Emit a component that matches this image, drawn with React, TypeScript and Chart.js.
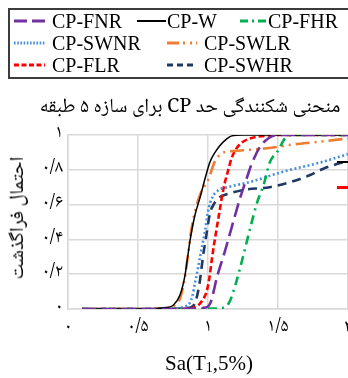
import React, { useEffect, useRef } from "react";
import { Chart, registerables } from "chart.js";

Chart.register(...registerables);

// Series names (legend order)
const seriesNames = ["CP-FNR", "CP-W", "CP-FHR", "CP-SWNR", "CP-SWLR", "CP-FLR", "CP-SWHR"];

// Fragility curves: spectral acceleration Sa(T1,5%) and probability of exceedance
const fnrX = [0.1, 0.8, 0.9, 0.96, 1.0, 1.02, 1.04, 1.06, 1.12, 1.18, 1.23, 1.28, 1.31, 1.37, 1.43, 1.5, 2.0];
const fnrP = [0, 0, 0.002, 0.006, 0.015, 0.04, 0.1, 0.17, 0.33, 0.5, 0.64, 0.76, 0.83, 0.93, 0.98, 1, 1];

const wX = [0.1, 0.5, 0.61, 0.7, 0.75, 0.8, 0.836, 0.855, 0.871, 0.907, 0.943, 0.979, 1.014, 1.05, 1.086, 1.13, 1.17, 1.25, 2.0];
const wP = [0, 0, 0.002, 0.008, 0.02, 0.08, 0.195, 0.3, 0.39, 0.54, 0.64, 0.75, 0.845, 0.9, 0.94, 0.975, 0.995, 1, 1];

const fhrX = [0.1, 0.9, 1.0, 1.1, 1.15, 1.2, 1.25, 1.3, 1.35, 1.4, 1.44, 1.5, 1.55, 1.6, 2.0];
const fhrP = [0, 0, 0.002, 0.006, 0.035, 0.15, 0.3, 0.46, 0.61, 0.72, 0.84, 0.91, 0.98, 1, 1];

const swnrX = [0.1, 0.6, 0.75, 0.82, 0.85, 0.87, 0.89, 0.907, 0.925, 0.943, 0.96, 0.979, 1.0, 1.03, 1.07, 1.14, 1.3, 1.54, 1.78, 2.0];
const swnrP = [0, 0, 0.003, 0.01, 0.02, 0.035, 0.08, 0.15, 0.22, 0.3, 0.37, 0.45, 0.56, 0.64, 0.68, 0.7, 0.73, 0.79, 0.837, 0.89];

const swlrX = [0.1, 0.6, 0.7, 0.76, 0.8, 0.83, 0.86, 0.88, 0.91, 0.95, 1.0, 1.05, 1.1, 1.18, 1.3, 1.44, 1.6, 1.78, 2.0];
const swlrP = [0, 0, 0.005, 0.02, 0.06, 0.16, 0.33, 0.45, 0.57, 0.67, 0.74, 0.85, 0.895, 0.908, 0.915, 0.925, 0.945, 0.96, 0.98];

const flrX = [0.1, 0.7, 0.85, 0.9, 0.93, 0.96, 0.99, 1.01, 1.03, 1.055, 1.08, 1.11, 1.145, 1.17, 1.22, 1.3, 1.4, 1.5, 2.0];
const flrP = [0, 0, 0.002, 0.008, 0.02, 0.05, 0.1, 0.18, 0.3, 0.43, 0.55, 0.69, 0.8, 0.87, 0.94, 0.98, 0.995, 1, 1];

const swhrX = [0.1, 0.6, 0.8, 0.88, 0.91, 0.94, 0.964, 0.99, 1.014, 1.04, 1.07, 1.1, 1.157, 1.25, 1.44, 1.59, 1.73, 1.82, 1.92, 2.0];
const swhrP = [0, 0, 0.003, 0.01, 0.04, 0.15, 0.3, 0.435, 0.55, 0.6, 0.635, 0.65, 0.665, 0.684, 0.7, 0.73, 0.77, 0.805, 0.833, 0.85];

// Axis tick labels (Persian numerals)
const xTickLabels = ["۰", "۰/۵", "۱", "۱/۵", "۲"];
const yTickLabels = ["۰", "۰/۲", "۰/۴", "۰/۶", "۰/۸", "۱"];

const titleText = "منحنی شکنندگی حد CP برای سازه ۵ طبقه";
const yTitleText = "احتمال فراگذشت";

type LineStyle = { color: string; width: number; dash: number[] };

const styles: LineStyle[] = [
  { color: "#7030A0", width: 2.6, dash: [14, 6] },
  { color: "#000000", width: 1.5, dash: [] },
  { color: "#00B050", width: 2.6, dash: [9, 5, 2, 5] },
  { color: "#4A8FDB", width: 2.6, dash: [2, 2.5] },
  { color: "#ED7D31", width: 2.6, dash: [14, 5, 2, 5, 2, 5] },
  { color: "#FF0000", width: 2.6, dash: [6, 3] },
  { color: "#1F3864", width: 2.6, dash: [9, 6] },
];

const legendDash: number[][] = [[13, 5], [], [8, 4, 2, 4], [1.6, 1.6], [12, 4, 2, 5, 2, 4], [5, 2.5], [6, 4]];

const curves: [number[], number[]][] = [
  [fnrX, fnrP],
  [wX, wP],
  [fhrX, fhrP],
  [swnrX, swnrP],
  [swlrX, swlrP],
  [flrX, flrP],
  [swhrX, swhrP],
];

// Legend placement: [series index, row, sample left, sample width, text left]
const legendLayout: [number, number, number, number, number][] = [
  [0, 0, 14, 31, 52],
  [1, 0, 137, 29, 167],
  [2, 0, 240, 27, 268],
  [3, 1, 14, 31, 52],
  [4, 1, 167, 30, 204],
  [5, 2, 14, 31, 52],
  [6, 2, 167, 30, 204],
];
const rowCenters = [21, 43, 65];

const serif = "'Liberation Serif', 'Times New Roman', serif";
const persian = "'Noto Naskh Arabic', 'Noto Sans Arabic', 'DejaVu Sans', sans-serif";

export default function App() {
  const canvasRef = useRef<HTMLCanvasElement | null>(null);

  useEffect(() => {
    if (!canvasRef.current) return;
    const chart = new Chart(canvasRef.current, {
      type: "line",
      data: {
        datasets: curves.map(([xs, ps], i) => ({
          label: seriesNames[i],
          data: xs.map((x, k) => ({ x, y: ps[k] })),
          borderColor: styles[i].color,
          borderWidth: styles[i].width,
          borderDash: styles[i].dash,
          pointRadius: 0,
          fill: false,
          cubicInterpolationMode: "monotone" as const,
        })),
      },
      options: {
        animation: false,
        responsive: false,
        events: [],
        layout: { padding: { top: 135, right: 52, bottom: 39, left: 0 } },
        plugins: { legend: { display: false }, tooltip: { enabled: false } },
        scales: {
          x: {
            type: "linear",
            min: 0,
            max: 2,
            ticks: {
              stepSize: 0.5,
              autoSkip: false,
              maxRotation: 0,
              padding: 9,
              color: "#000",
              font: { family: persian, size: 18 },
              callback: (_v: any, i: number) => xTickLabels[i],
            },
            grid: { color: "#d9d9d9", lineWidth: 1.5, drawTicks: false },
            border: { color: "#d9d9d9", width: 1.5 },
            afterFit: (s: any) => {
              s.height = 30;
            },
          },
          y: {
            min: 0,
            max: 1,
            ticks: {
              stepSize: 0.2,
              padding: 5,
              color: "#000",
              font: { family: persian, size: 18 },
              callback: (_v: any, i: number) => yTickLabels[i],
            },
            grid: { color: "#d9d9d9", lineWidth: 1.5, drawTicks: false },
            border: { color: "#d9d9d9", width: 1.5 },
            afterFit: (s: any) => {
              s.width = 68;
            },
          },
        },
      },
    });
    return () => chart.destroy();
  }, []);

  return (
    <div
      style={{
        position: "fixed",
        left: 0,
        top: 0,
        width: 348,
        height: 378,
        overflow: "hidden",
        background: "#fff",
      }}
    >
      <canvas ref={canvasRef} width={400} height={378} style={{ position: "absolute", left: 0, top: 0 }} />

      {/* legend box */}
      <div
        style={{
          position: "absolute",
          left: 8,
          top: 8,
          width: 360,
          height: 71,
          border: "2px solid #3c3c3c",
          boxSizing: "border-box",
        }}
      />
      {legendLayout.map(([si, row, sx, sw, tx]) => (
        <React.Fragment key={si}>
          <svg
            width={sw}
            height={6}
            style={{ position: "absolute", left: sx, top: rowCenters[row] - 3 }}
          >
            <line
              x1={0}
              y1={3}
              x2={sw}
              y2={3}
              stroke={styles[si].color}
              strokeWidth={si === 1 ? 2 : 3}
              strokeDasharray={legendDash[si].length ? legendDash[si].join(" ") : undefined}
            />
          </svg>
          <div
            style={{
              position: "absolute",
              left: tx,
              top: rowCenters[row] - 12,
              height: 24,
              lineHeight: "24px",
              fontFamily: serif,
              fontSize: 20,
              color: "#000",
              whiteSpace: "nowrap",
            }}
          >
            {seriesNames[si]}
          </div>
        </React.Fragment>
      ))}

      {/* chart title */}
      <div
        dir="rtl"
        style={{
          position: "absolute",
          left: 190,
          top: 108,
          transform: "translate(-50%, -50%)",
          fontFamily: persian,
          fontSize: 20,
          whiteSpace: "nowrap",
          color: "#000",
        }}
      >
        {titleText}
      </div>

      {/* y axis title */}
      <div
        dir="rtl"
        style={{
          position: "absolute",
          left: 19,
          top: 218,
          transform: "translate(-50%, -50%) rotate(-90deg)",
          fontFamily: persian,
          fontSize: 20,
          whiteSpace: "nowrap",
          color: "#000",
        }}
      >
        {yTitleText}
      </div>

      {/* x axis title */}
      <div
        style={{
          position: "absolute",
          left: 209,
          top: 363,
          transform: "translate(-50%, -50%)",
          fontFamily: serif,
          fontSize: 21,
          whiteSpace: "nowrap",
          color: "#000",
        }}
      >
        Sa(T<span style={{ fontSize: 14, position: "relative", top: 2 }}>1</span>,5%)
      </div>

      {/* samples of a neighbouring legend at the right edge */}
      <div style={{ position: "absolute", left: 337, top: 161, width: 12, borderTop: "2px solid #000" }} />
      <div style={{ position: "absolute", left: 337, top: 186, width: 12, borderTop: "3px dashed #FF0000" }} />
    </div>
  );
}
